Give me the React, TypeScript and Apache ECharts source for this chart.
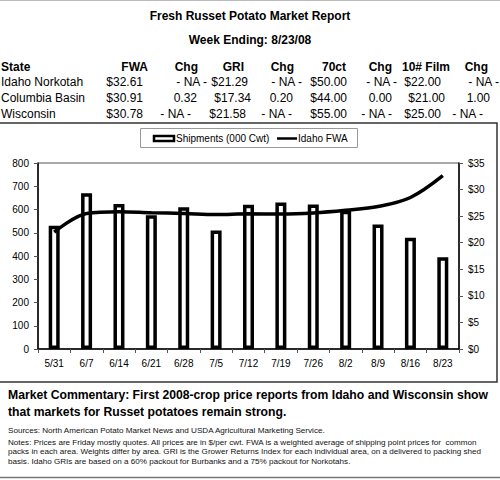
import React, { useEffect, useRef } from "react";
import * as echarts from "echarts";

// Weekly shipments and Idaho FWA price
const weeks = ["5/31", "6/7", "6/14", "6/21", "6/28", "7/5", "7/12", "7/19", "7/26", "8/2", "8/9", "8/16", "8/23"];
const shipments = [530, 670, 624, 575, 610, 510, 620, 630, 621, 595, 535, 478, 395];
const idahoFwa = [22.0, 25.5, 25.85, 25.65, 25.5, 25.3, 25.45, 25.4, 25.6, 26.1, 26.8, 28.5, 32.61];

// Price table
const tableHeaders = ["State", "FWA", "Chg", "GRI", "Chg", "70ct", "Chg", "10# Film", "Chg"];
const states = ["Idaho Norkotah", "Columbia Basin", "Wisconsin"];
const fwa = ["$32.61", "$30.91", "$30.78"];
const fwaChg = ["- NA -", "0.32", "- NA -"];
const gri = ["$21.29", "$17.34", "$21.58"];
const griChg = ["- NA -", "0.20", "- NA -"];
const ct70 = ["$50.00", "$44.00", "$55.00"];
const ct70Chg = ["- NA -", "0.00", "- NA -"];
const film10 = ["$22.00", "$21.00", "$25.00"];
const film10Chg = ["- NA -", "1.00", "- NA -"];

const legendNames = ["Shipments (000 Cwt)", "Idaho FWA"];

const commentary = [
  "Market Commentary: First 2008-crop price reports from Idaho and Wisconsin show",
  "that markets for Russet potatoes remain strong.",
];
const sources = "Sources: North American Potato Market News and USDA Agricultural Marketing Service.";
const notes = [
  "Notes: Prices are Friday mostly quotes. All prices are in $/per cwt. FWA is a weighted average of shipping point prices for  common",
  "packs in each area. Weights differ by area. GRI is the Grower Returns Index for each individual area, on a delivered to packing shed",
  "basis. Idaho GRIs are based on a 60% packout for Burbanks and a 75% packout for Norkotahs.",
];

const FONT = "'Liberation Sans', Arial, sans-serif";

// table layout: header right edges, row centres, cell right edges (column 0 is left aligned)
const headerRight = [1, 148, 198, 244, 294, 346, 392, 450, 488];
const rowY = [82, 98, 114];
const cellRight = [
  [1, 143, 207, 248, 302, 347, 397, 441, 499],
  [1, 143, 197, 251, 293, 347, 392, 445, 490],
  [1, 143, 191, 246, 292, 347, 392, 441, 483],
];

function tableGraphics() {
  const els: any[] = [];
  tableHeaders.forEach((h, i) => {
    els.push({
      type: "text",
      x: headerRight[i],
      y: 66.5,
      style: {
        text: h,
        font: `bold 12px ${FONT}`,
        fill: "#000",
        textAlign: i === 0 ? "left" : "right",
        textVerticalAlign: "middle",
      },
    });
  });
  const cols = [states, fwa, fwaChg, gri, griChg, ct70, ct70Chg, film10, film10Chg];
  for (let r = 0; r < states.length; r++) {
    cols.forEach((col, c) => {
      els.push({
        type: "text",
        x: cellRight[r][c],
        y: rowY[r],
        style: {
          text: col[r],
          font: `12px ${FONT}`,
          fill: "#000",
          textAlign: c === 0 ? "left" : "right",
          textVerticalAlign: "middle",
        },
      });
    });
  }
  return els;
}

function legendGraphics() {
  return [
    { type: "rect", shape: { x: 140.5, y: 128.5, width: 217, height: 19 }, style: { fill: "#fff", stroke: "#999", lineWidth: 1 } },
    { type: "rect", shape: { x: 154, y: 136, width: 20, height: 5 }, style: { fill: "#fff", stroke: "#000", lineWidth: 2.5 } },
    {
      type: "text", x: 176, y: 138.5,
      style: { text: legendNames[0], font: `10px ${FONT}`, fill: "#000", textAlign: "left", textVerticalAlign: "middle" },
    },
    { type: "line", shape: { x1: 277, y1: 138.5, x2: 297, y2: 138.5 }, style: { stroke: "#000", lineWidth: 2.5 } },
    {
      type: "text", x: 298, y: 138.5,
      style: { text: legendNames[1], font: `10px ${FONT}`, fill: "#000", textAlign: "left", textVerticalAlign: "middle" },
    },
  ];
}

export default function App() {
  const ref = useRef<HTMLDivElement>(null);

  useEffect(() => {
    if (!ref.current) return;
    const chart = echarts.init(ref.current, undefined, { renderer: "svg" });

    const graphics: any[] = [
      // frame lines
      { type: "line", shape: { x1: 0, y1: 0.5, x2: 500, y2: 0.5 }, style: { stroke: "#bbb", lineWidth: 1 } },
      { type: "rect", shape: { x: -2, y: 123, width: 499, height: 259 }, style: { fill: "none", stroke: "#333", lineWidth: 1.5 } },
      { type: "line", shape: { x1: 0, y1: 477.5, x2: 500, y2: 477.5 }, style: { stroke: "#777", lineWidth: 1.5 } },
      // titles
      {
        type: "text", x: 250, y: 16,
        style: { text: "Fresh Russet Potato Market Report", font: `bold 12px ${FONT}`, fill: "#000", textAlign: "center", textVerticalAlign: "middle" },
      },
      {
        type: "text", x: 250, y: 40,
        style: { text: "Week Ending: 8/23/08", font: `bold 12px ${FONT}`, fill: "#000", textAlign: "center", textVerticalAlign: "middle" },
      },
      ...tableGraphics(),
      ...legendGraphics(),
      ...commentary.map((t, i) => ({
        type: "text", x: 8, y: 395 + i * 16.5,
        style: { text: t, font: `bold 12.2px ${FONT}`, fill: "#000", textAlign: "left", textVerticalAlign: "middle" },
      })),
      {
        type: "text", x: 8, y: 430,
        style: { text: sources, font: `8.1px ${FONT}`, fill: "#111", textAlign: "left", textVerticalAlign: "middle" },
      },
      ...notes.map((t, i) => ({
        type: "text", x: 8, y: 442 + i * 9.8,
        style: { text: t, font: `8.1px ${FONT}`, fill: "#111", textAlign: "left", textVerticalAlign: "middle" },
      })),
    ];

    chart.setOption({
      animation: false,
      backgroundColor: "#fff",
      textStyle: { fontFamily: FONT },
      grid: {
        left: 38,
        right: 41,
        top: 163,
        bottom: 131,
        show: true,
        borderColor: "#555",
        borderWidth: 1,
        backgroundColor: "transparent",
      },
      xAxis: {
        type: "category",
        data: weeks,
        axisLine: { lineStyle: { color: "#000", width: 1.5 } },
        axisTick: { show: true, length: 4, lineStyle: { color: "#555" } },
        axisLabel: { color: "#000", fontSize: 10, margin: 9 },
      },
      yAxis: [
        {
          type: "value",
          min: 0,
          max: 800,
          interval: 100,
          axisLine: { show: true, lineStyle: { color: "#000", width: 1.5 } },
          axisTick: { show: true, length: 4, lineStyle: { color: "#555" } },
          axisLabel: { color: "#000", fontSize: 10, margin: 9 },
          splitLine: { show: false },
        },
        {
          type: "value",
          position: "right",
          min: 0,
          max: 35,
          interval: 5,
          axisLine: { show: true, lineStyle: { color: "#000", width: 1.5 } },
          axisTick: { show: true, length: 4, lineStyle: { color: "#555" } },
          axisLabel: { color: "#000", fontSize: 10, margin: 9, formatter: "${value}" },
          splitLine: { show: false },
        },
      ],
      series: [
        {
          name: legendNames[0],
          type: "bar",
          data: shipments,
          barWidth: 11,
          itemStyle: { color: "#fff", borderColor: "#000", borderWidth: 3.5 },
        },
        {
          name: legendNames[1],
          type: "line",
          yAxisIndex: 1,
          data: idahoFwa,
          smooth: 0.35,
          symbol: "none",
          lineStyle: { color: "#000", width: 3.5 },
          itemStyle: { color: "#000" },
        },
      ],
      graphic: graphics,
    });

    return () => chart.dispose();
  }, []);

  return (
    <div
      ref={ref}
      style={{ position: "fixed", left: 0, top: 0, width: 500, height: 480, background: "#fff" }}
    />
  );
}
